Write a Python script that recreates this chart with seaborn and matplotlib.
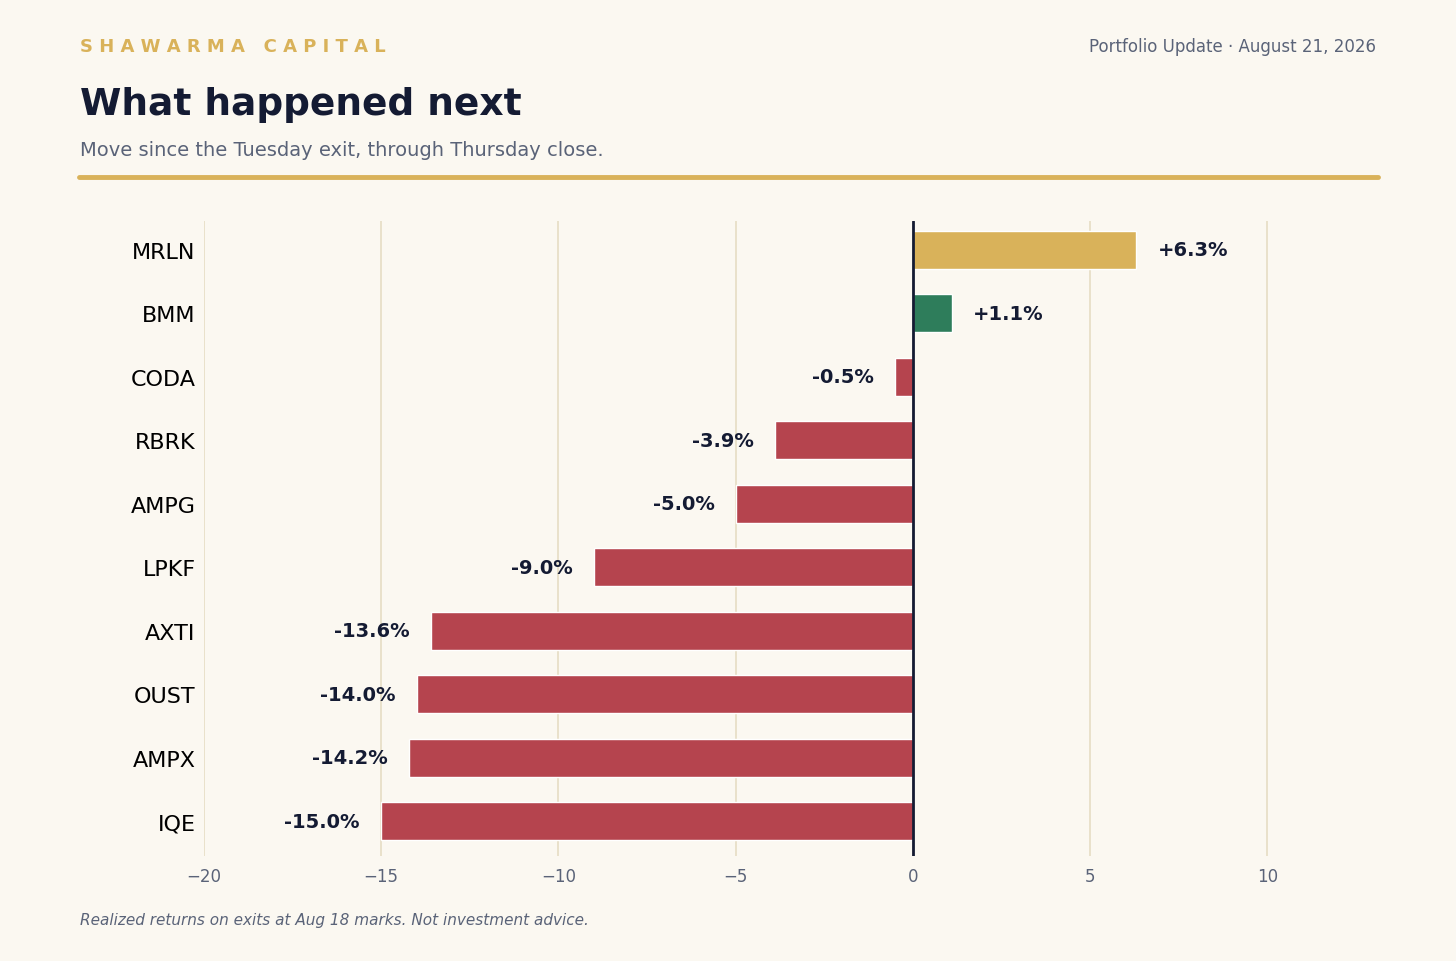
import matplotlib
matplotlib.use("Agg")
import matplotlib.pyplot as plt
import seaborn as sns
import pandas as pd

tickers = ["MRLN", "BMM", "CODA", "RBRK", "AMPG", "LPKF", "AXTI", "OUST", "AMPX", "IQE"]
moves = [6.3, 1.1, -0.5, -3.9, -5.0, -9.0, -13.6, -14.0, -14.2, -15.0]

BG = "#FBF8F1"
NAVY = "#141B33"
GOLD = "#D9B25A"
GREEN = "#2E7D5B"
RED = "#B5444E"
GRAY = "#5A6378"

colors = {t: (GOLD if i == 0 else GREEN if m > 0 else RED)
          for i, (t, m) in enumerate(zip(tickers, moves))}
df = pd.DataFrame({"ticker": tickers, "move": moves})

sns.set_theme(style="white")
plt.rcParams["font.family"] = ["DejaVu Sans"]

fig = plt.figure(figsize=(14.56, 9.62), dpi=100, facecolor=BG)
ax = fig.add_axes([0.140, 0.109, 0.806, 0.66])
ax.set_facecolor(BG)

sns.barplot(data=df, y="ticker", x="move", hue="ticker", palette=colors,
            order=tickers, width=0.6, legend=False, ax=ax, saturation=1,
            edgecolor=None, zorder=3)

ax.set_xlim(-20, 13.1)
ax.set_ylim(len(tickers) - 0.45, -0.45)
ax.set_xticks([-20, -15, -10, -5, 0, 5, 10])
ax.xaxis.grid(True, color="#E8DFC8", linewidth=1.3, zorder=0)
ax.axvline(0, color=NAVY, linewidth=2, zorder=4)
for s in ax.spines.values():
    s.set_visible(False)
ax.set_xlabel("")
ax.set_ylabel("")
ax.tick_params(axis="x", colors=GRAY, labelsize=12, length=0, pad=8)
ax.tick_params(axis="y", labelsize=16, length=0, pad=6, labelcolor="black")

for i, m in enumerate(moves):
    if m > 0:
        ax.text(m + 0.6, i, f"+{m:.1f}%", ha="left", va="center",
                fontsize=14, fontweight="bold", color=NAVY, zorder=5)
    else:
        ax.text(m - 0.6, i, f"{m:.1f}%", ha="right", va="center",
                fontsize=14, fontweight="bold", color=NAVY, zorder=5)

fig.text(80 / 1456, 1 - 47 / 962, "S H A W A R M A   C A P I T A L", color=GOLD,
         fontsize=13, fontweight="bold", va="center", ha="left")
fig.text(1376 / 1456, 1 - 47 / 962, "Portfolio Update · August 21, 2026", color=GRAY,
         fontsize=12, va="center", ha="right")
fig.text(80 / 1456, 1 - 105 / 962, "What happened next", color=NAVY,
         fontsize=27, fontweight="bold", va="center", ha="left")
fig.text(80 / 1456, 1 - 150 / 962, "Move since the Tuesday exit, through Thursday close.",
         color=GRAY, fontsize=14, va="center", ha="left")
fig.add_artist(plt.Line2D([79 / 1456, 1378 / 1456], [1 - 178 / 962] * 2,
                          color=GOLD, linewidth=3.5, transform=fig.transFigure))
fig.text(80 / 1456, 1 - 920 / 962,
         "Realized returns on exits at Aug 18 marks. Not investment advice.",
         color=GRAY, fontsize=11, style="italic", va="center", ha="left")

fig.savefig("out.png", dpi=100, facecolor=BG)
